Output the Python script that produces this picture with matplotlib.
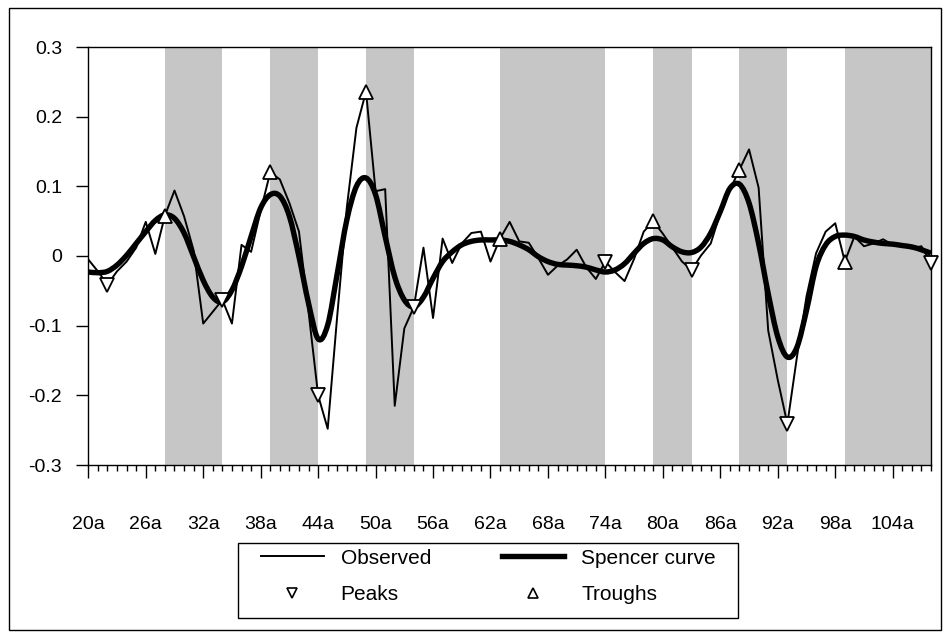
import numpy as np
import matplotlib
matplotlib.use("Agg")
import matplotlib.pyplot as plt
from matplotlib.patches import Rectangle, PathPatch
from matplotlib.path import Path
from matplotlib.lines import Line2D
from matplotlib.ticker import MultipleLocator

plt.rcParams['font.family'] = ['Liberation Sans', 'DejaVu Sans']

# edades 20..108
AGES = list(range(20, 109))

OBSERVED = [-0.005, -0.022, -0.041, -0.022, -0.008, 0.012, 0.049, 0.003, 0.058, 0.094,
            0.057, 0.008, -0.097, -0.080, -0.063, -0.097, 0.016, 0.006, 0.065, 0.120,
            0.110, 0.076, 0.035, -0.080, -0.200, -0.248, -0.085, 0.070, 0.184, 0.236,
            0.093, 0.096, -0.215, -0.104, -0.073, 0.012, -0.089, 0.025, -0.010, 0.018,
            0.033, 0.035, -0.008, 0.025, 0.049, 0.021, 0.019, -0.003, -0.027, -0.014,
            -0.005, 0.009, -0.016, -0.033, -0.008, -0.023, -0.036, -0.004, 0.035, 0.050,
            0.032, 0.012, -0.008, -0.020, 0.001, 0.018, 0.062, 0.095, 0.124, 0.153,
            0.098, -0.107, -0.178, -0.241, -0.145, -0.058, 0.004, 0.035, 0.047, -0.008,
            0.028, 0.014, 0.018, 0.024, 0.016, 0.014, 0.011, 0.014, -0.010]

SPENCER = [-0.023, -0.024, -0.022, -0.013, 0.001, 0.018, 0.035, 0.051, 0.059, 0.054,
           0.033, -0.001, -0.035, -0.059, -0.066, -0.049, -0.015, 0.028, 0.069, 0.088,
           0.086, 0.057, -0.001, -0.068, -0.119, -0.099, -0.025, 0.052, 0.100, 0.112,
           0.088, 0.028, -0.030, -0.063, -0.073, -0.059, -0.032, -0.008, 0.006, 0.016,
           0.021, 0.023, 0.023, 0.023, 0.021, 0.016, 0.009, -0.001, -0.008, -0.012,
           -0.013, -0.014, -0.016, -0.020, -0.023, -0.020, -0.011, 0.004, 0.018, 0.025,
           0.023, 0.013, 0.006, 0.005, 0.013, 0.033, 0.064, 0.097, 0.103, 0.076,
           0.018, -0.054, -0.116, -0.145, -0.131, -0.078, -0.015, 0.016, 0.028, 0.030,
           0.028, 0.023, 0.020, 0.018, 0.017, 0.015, 0.013, 0.009, 0.004]

PEAKS = [22, 34, 44, 54, 74, 83, 93, 108]
TROUGHS = [28, 39, 49, 63, 79, 88, 99]

X_TICKS = list(range(20, 105, 6))
X_LABELS = [f"{a}a" for a in X_TICKS]
Y_TICKS = [0.3, 0.2, 0.1, 0, -0.1, -0.2, -0.3]
Y_LABELS = ["0.3", "0.2", "0.1", "0", "-0.1", "-0.2", "-0.3"]

SHADE = '#c6c6c6'
W, H = 944, 638


def value_at(age):
    return OBSERVED[AGES.index(age)]


def smooth_path(x, y):
    """Línea suavizada (tipo Excel) a través de los puntos: Catmull-Rom -> Bezier"""
    pts = np.column_stack([x, y]).astype(float)
    ext = np.vstack([pts[0], pts, pts[-1]])
    verts = [pts[0]]
    codes = [Path.MOVETO]
    for i in range(len(pts) - 1):
        p0, p1, p2, p3 = ext[i], ext[i + 1], ext[i + 2], ext[i + 3]
        verts += [p1 + (p2 - p0) / 6, p2 - (p3 - p1) / 6, p2]
        codes += [Path.CURVE4] * 3
    return Path(verts, codes)


fig = plt.figure(figsize=(W / 100, H / 100), dpi=100)
ax = fig.add_axes([88.3 / W, 1 - 465 / H, (931 - 88.3) / W, (465 - 47) / H])

# bandas sombreadas: de cada valle al siguiente pico
for start, end in zip(TROUGHS, PEAKS[1:]):
    ax.axvspan(start, end, color=SHADE, lw=0, zorder=0)

ax.plot(AGES, OBSERVED, color='black', lw=1.4, zorder=2)
ax.add_patch(PathPatch(smooth_path(AGES, SPENCER), fill=False, ec='black', lw=3.9,
                       joinstyle='round', capstyle='butt', zorder=3))
ax.plot(PEAKS, [value_at(a) for a in PEAKS], ls='none', marker='v', ms=10,
        mfc='white', mec='black', mew=1.3, zorder=4, clip_on=False)
ax.plot(TROUGHS, [value_at(a) for a in TROUGHS], ls='none', marker='^', ms=10,
        mfc='white', mec='black', mew=1.3, zorder=4, clip_on=False)

ax.set_xlim(20, 108)
ax.set_ylim(-0.3, 0.3)
ax.set_xticks(X_TICKS)
ax.set_xticklabels(X_LABELS, fontsize=14)
ax.xaxis.set_minor_locator(MultipleLocator(1))
ax.set_yticks(Y_TICKS)
ax.set_yticklabels(Y_LABELS, fontsize=14)
ax.tick_params(axis='x', which='major', direction='out', length=9.5, width=1, pad=27)
ax.tick_params(axis='x', which='minor', direction='out', length=4.5, width=1)
ax.tick_params(axis='y', which='major', direction='out', length=9, width=1, pad=10)
for s in ax.spines.values():
    s.set_linewidth(1)
    s.set_color('black')

# leyenda: columnas (Observed, Peaks) y (Spencer curve, Troughs)
handles = [
    Line2D([], [], color='black', lw=1.4),
    Line2D([], [], ls='none', marker='v', ms=7, mfc='white', mec='black', mew=1.2),
    Line2D([], [], color='black', lw=3.9),
    Line2D([], [], ls='none', marker='^', ms=7, mfc='white', mec='black', mew=1.2),
]
labels = ['Observed', 'Peaks', 'Spencer curve', 'Troughs']
fig.legend(handles, labels, loc='center', bbox_to_anchor=(488.5 / W, 1 - 576.5 / H),
           ncol=2, fontsize=15, frameon=False, handlelength=3.0, handletextpad=0.82,
           columnspacing=3.4, labelspacing=0.85, borderpad=0, numpoints=1)
fig.patches.append(Rectangle((238 / W, 1 - 618 / H), 500 / W, 75 / H,
                             transform=fig.transFigure, fill=False, ec='black', lw=1))

# borde exterior del gráfico
fig.patches.append(Rectangle((9 / W, 1 - 630 / H), (941 - 9) / W, (630 - 8) / H,
                             transform=fig.transFigure, fill=False, ec='black', lw=1))

fig.savefig('out.png', dpi=100)
